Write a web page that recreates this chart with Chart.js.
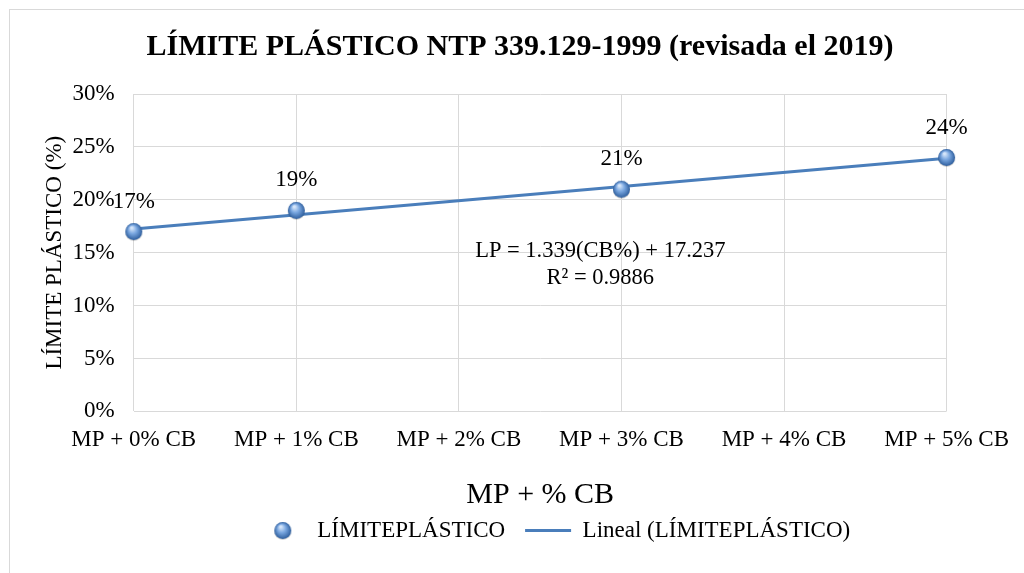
<!DOCTYPE html>
<html>
<head>
<meta charset="utf-8">
<script src="https://cdn.jsdelivr.net/npm/chart.js@4.4.1/dist/chart.umd.min.js"></script>
<style>
  html, body { margin: 0; padding: 0; background: #fff; overflow: hidden; }
  #wrap { position: relative; width: 1024px; height: 573px; }
  #frame { position: absolute; left: 9px; top: 9px; width: 1100px; height: 700px; border: 1px solid #d9d9d9; }
  canvas { position: absolute; left: 0; top: 0; }
</style>
</head>
<body>
<div id="wrap">
  <div id="frame"></div>
  <canvas id="chart" width="1024" height="573"></canvas>
</div>
<script>
const chartTitle = 'LÍMITE PLÁSTICO NTP 339.129-1999 (revisada el 2019)';
const categories = ['MP + 0% CB', 'MP + 1% CB', 'MP + 2% CB', 'MP + 3% CB', 'MP + 4% CB', 'MP + 5% CB'];
const pointCats = ['MP + 0% CB', 'MP + 1% CB', 'MP + 3% CB', 'MP + 5% CB'];
const pointValues = [17, 19, 21, 24];
const trendCats = ['MP + 0% CB', 'MP + 5% CB'];
const trendValues = [17.24, 23.93];
const yTicks = [0, 5, 10, 15, 20, 25, 30];
const equationLines = ['LP = 1.339(CB%) + 17.237', 'R² = 0.9886'];

const FONT = "'Liberation Serif', 'Times New Roman', serif";
const blue = '#4a7ebb';

function makeBall(r) {
  const c = document.createElement('canvas');
  const s = r * 2 + 4;
  c.width = s; c.height = s;
  const g = c.getContext('2d');
  const cx = s / 2, cy = s / 2;
  g.beginPath();
  g.arc(cx, cy + 1, r, 0, Math.PI * 2);
  g.fillStyle = 'rgba(0,0,0,0.18)';
  g.fill();
  const grad = g.createRadialGradient(cx - r * 0.25, cy - r * 0.45, r * 0.1, cx, cy, r);
  grad.addColorStop(0, '#d6e6fa');
  grad.addColorStop(0.45, '#7aa7e0');
  grad.addColorStop(1, '#2f5f9e');
  g.beginPath();
  g.arc(cx, cy, r, 0, Math.PI * 2);
  g.fillStyle = grad;
  g.fill();
  return c;
}
const ball = makeBall(8.5);

const textPlugin = {
  id: 'texts',
  afterLayout(chart) {
    // legend sits right of centre in the original
    chart.legend.left += 32;
    chart.legend.right += 32;
  },
  afterDraw(chart) {
    const ctx = chart.ctx;
    ctx.save();
    ctx.fillStyle = '#000';
    ctx.textAlign = 'center';
    ctx.textBaseline = 'middle';
    ctx.font = 'bold 30px ' + FONT;
    ctx.fillText(chartTitle, 520, 47);
    ctx.restore();
  },
  afterDatasetsDraw(chart) {
    const ctx = chart.ctx;
    const meta = chart.getDatasetMeta(0);
    ctx.save();
    ctx.font = '23px ' + FONT;
    ctx.fillStyle = '#000';
    ctx.textAlign = 'center';
    ctx.textBaseline = 'middle';
    meta.data.forEach((p, i) => {
      ctx.fillText(pointValues[i] + '%', p.x, p.y - 30);
    });
    const a = chart.chartArea;
    const cx = a.left + (a.right - a.left) * 0.574;
    ctx.font = '22.5px ' + FONT;
    ctx.fillText(equationLines[0], cx, 251);
    ctx.fillText(equationLines[1], cx, 278);
    ctx.restore();
  }
};

new Chart(document.getElementById('chart'), {
  type: 'line',
  data: {
    labels: categories,
    datasets: [
      {
        label: 'LÍMITEPLÁSTICO',
        data: pointCats.map((c, i) => ({ x: c, y: pointValues[i] })),
        showLine: false,
        pointStyle: ball,
        pointRadius: 9,
        order: 1
      },
      {
        label: 'Lineal (LÍMITEPLÁSTICO)',
        data: trendCats.map((c, i) => ({ x: c, y: trendValues[i] })),
        borderColor: blue,
        backgroundColor: blue,
        borderWidth: 3,
        pointRadius: 0,
        pointStyle: 'line',
        order: 2
      }
    ]
  },
  options: {
    responsive: false,
    animation: false,
    layout: { padding: { left: 41, right: 19, top: 94, bottom: 21 } },
    plugins: {
      title: { display: false },
      legend: {
        position: 'bottom',
        labels: {
          color: '#000',
          font: { family: FONT, size: 23 },
          usePointStyle: true,
          pointStyleWidth: 46,
          boxHeight: 23,
          padding: 20
        }
      },
      tooltip: { enabled: false }
    },
    scales: {
      x: {
        offset: false,
        grid: { color: '#d9d9d9', lineWidth: 1, drawTicks: false },
        border: { display: false },
        ticks: { color: '#000', font: { family: FONT, size: 23 }, padding: 15, maxRotation: 0, autoSkip: false },
        title: { display: true, text: 'MP + % CB', color: '#000', font: { family: FONT, size: 30 }, padding: { top: 8, bottom: -14 } }
      },
      y: {
        min: 0,
        max: 30,
        afterBuildTicks: s => { s.ticks = yTicks.map(v => ({ value: v })); },
        grid: { color: '#d9d9d9', lineWidth: 1, drawTicks: false },
        border: { display: false },
        ticks: { color: '#000', font: { family: FONT, size: 23 }, padding: 19, callback: v => v + '%' },
        title: { display: true, text: 'LÍMITE PLÁSTICO (%)', color: '#000', font: { family: FONT, size: 23 }, padding: { top: 0, bottom: -15 } }
      }
    }
  },
  plugins: [textPlugin]
});
</script>
</body>
</html>
